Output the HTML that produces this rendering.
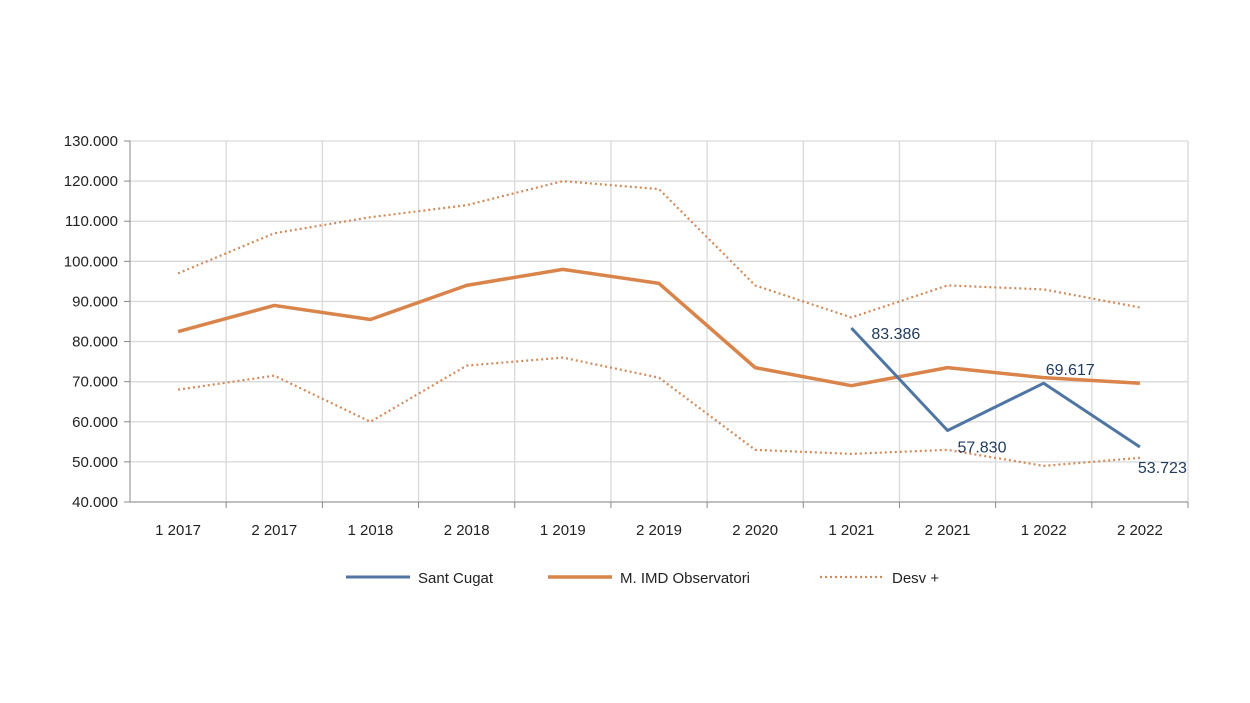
<!DOCTYPE html>
<html><head><meta charset="utf-8"><style>
html,body{margin:0;padding:0;background:#fff;}
svg{display:block;font-family:"Liberation Sans",sans-serif;}
</style></head><body>
<svg id="c" width="1250" height="703" xmlns="http://www.w3.org/2000/svg"></svg>
<script>
const s=document.getElementById('c');
let h='<rect width="1250" height="703" fill="#fff"/>';
const L=130,R=1188,T=141,B=502,n=11,w=(R-L)/n;
const y=v=>B-(v-40)*(B-T)/90;
const x=i=>L+w*(i+0.5);
for(let k=0;k<=9;k++){const yy=y(40+k*10);
 h+=`<line x1="${L}" x2="${R}" y1="${yy}" y2="${yy}" stroke="#d9d9d9" stroke-width="1.3"/>`;
 h+=`<line x1="${L-6}" x2="${L}" y1="${yy}" y2="${yy}" stroke="#888"/>`;
 h+=`<text x="${L-12}" y="${yy+5}" font-size="15" fill="#222" text-anchor="end">${(40+k*10)}.000</text>`;}
for(let i=1;i<=n;i++){const xx=L+w*i;
 h+=`<line x1="${xx}" x2="${xx}" y1="${T}" y2="${B}" stroke="#d9d9d9" stroke-width="1.3"/>`;
 h+=`<line x1="${xx}" x2="${xx}" y1="${B}" y2="${B+6}" stroke="#888"/>`;}
h+=`<line x1="${L}" x2="${L}" y1="${T}" y2="${B}" stroke="#888"/><line x1="${L}" x2="${R}" y1="${B}" y2="${B}" stroke="#888"/>`;
const labs=["1 2017","2 2017","1 2018","2 2018","1 2019","2 2019","2 2020","1 2021","2 2021","1 2022","2 2022"];
labs.forEach((t,i)=>h+=`<text x="${x(i)}" y="${B+33}" font-size="15" fill="#222" text-anchor="middle">${t}</text>`);
const pl=(a,st,off=0)=>`<polyline fill="none" points="${a.map((v,i)=>x(i+off)+','+y(v)).join(' ')}" ${st}/>`;
const up=[97,107,111,114,120,118,94,86,94,93,88.5],lo=[68,71.5,60,74,76,71,53,52,53,49,51],
 m=[82.5,89,85.5,94,98,94.5,73.5,69,73.5,71,69.6],sc=[83.386,57.83,69.617,53.723];
const dot='stroke="#d08a5a" stroke-width="2.2" stroke-dasharray="2 3"';
h+=pl(up,dot)+pl(lo,dot);
h+=pl(m,'stroke="#d9844a" stroke-width="3.5" stroke-linejoin="round"');
h+=pl(sc,'stroke="#4f76a3" stroke-width="3" stroke-linejoin="round"',7);
const dl=[["83.386",x(7)+20,y(83.386)+11],["57.830",x(8)+10,y(57.83)+22],["69.617",x(9)+2,y(69.617)-8],["53.723",x(10)-2,y(53.723)+26]];
dl.forEach(d=>h+=`<text x="${d[1]}" y="${d[2]}" font-size="16" fill="#1f3a5a">${d[0]}</text>`);
h+=`<line x1="346" x2="410" y1="577" y2="577" stroke="#4f76a3" stroke-width="3"/><text x="418" y="583" font-size="15" fill="#222">Sant Cugat</text>`;
h+=`<line x1="548" x2="612" y1="577" y2="577" stroke="#d9844a" stroke-width="3.5"/><text x="620" y="583" font-size="15" fill="#222">M. IMD Observatori</text>`;
h+=`<line x1="820" x2="884" y1="577" y2="577" ${dot}/><text x="892" y="583" font-size="15" fill="#222">Desv +</text>`;
s.innerHTML=h;
</script>
</body></html>
